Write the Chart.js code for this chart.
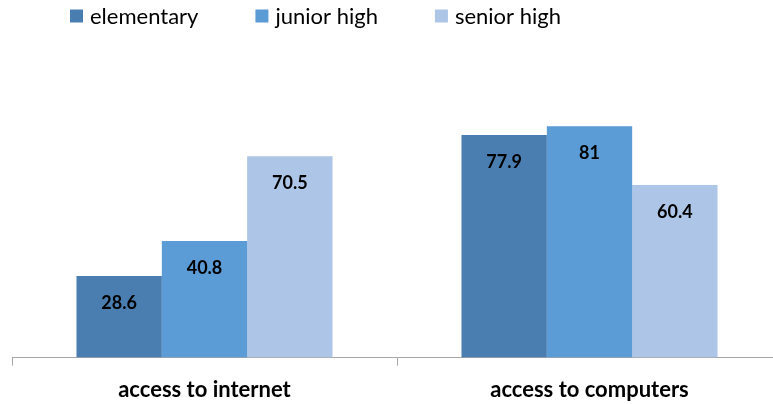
<!DOCTYPE html>
<html>
<head>
<meta charset="utf-8">
<script src="https://cdn.jsdelivr.net/npm/chart.js@4"></script>
<style>
  html, body { margin: 0; padding: 0; background: #fff; overflow: hidden; }
  #wrap { width: 790px; height: 404px; overflow: hidden; }
</style>
</head>
<body>
<div id="wrap"><canvas id="myChart" width="790" height="414"></canvas></div>
<script>
// Datos del gráfico
const categorias = ['access to internet', 'access to computers'];
const series = ['elementary', 'junior high', 'senior high'];
const elementary = [28.6, 77.9];
const juniorHigh = [40.8, 81];
const seniorHigh = [70.5, 60.4];
const colores = ['#4A7EB0', '#5B9BD6', '#ADC5E6'];

const fuente = 'Lato, "Open Sans", sans-serif';

// Etiquetas de valor dentro de cada barra, cerca del borde superior
const etiquetasValor = {
  id: 'etiquetasValor',
  afterDatasetsDraw(chart) {
    const ctx = chart.ctx;
    ctx.save();
    ctx.font = 'bold 18px ' + fuente;
    ctx.fillStyle = '#000';
    ctx.textAlign = 'center';
    ctx.textBaseline = 'middle';
    chart.data.datasets.forEach((ds, i) => {
      chart.getDatasetMeta(i).data.forEach((bar, j) => {
        ctx.fillText(String(ds.data[j]), bar.x, bar.y + 27);
      });
    });
    ctx.restore();
  }
};

// Leyenda dibujada a mano para controlar el espaciado
const leyenda = {
  id: 'leyenda',
  afterDraw(chart) {
    const ctx = chart.ctx;
    ctx.save();
    ctx.font = '22px ' + fuente;
    ctx.textBaseline = 'middle';
    let x = 70;
    const y = 16;
    chart.data.datasets.forEach(ds => {
      ctx.fillStyle = ds.backgroundColor;
      ctx.fillRect(x, y - 6.5, 13, 13);
      ctx.fillStyle = '#000';
      ctx.fillText(ds.label, x + 20, y + 1);
      x += 20 + ctx.measureText(ds.label).width + 57;
    });
    ctx.restore();
  }
};

const ctx = document.getElementById('myChart').getContext('2d');
new Chart(ctx, {
  type: 'bar',
  data: {
    labels: categorias,
    datasets: [
      { label: series[0], data: elementary, backgroundColor: colores[0] },
      { label: series[1], data: juniorHigh, backgroundColor: colores[1] },
      { label: series[2], data: seniorHigh, backgroundColor: colores[2] }
    ]
  },
  plugins: [etiquetasValor, leyenda],
  options: {
    responsive: false,
    animation: false,
    layout: { padding: { left: 12, right: 8, top: 72, bottom: 0 } },
    datasets: {
      bar: { categoryPercentage: 0.665, barPercentage: 1 }
    },
    plugins: {
      legend: { display: false },
      tooltip: { enabled: false }
    },
    scales: {
      x: {
        grid: {
          offset: true,
          drawOnChartArea: false,
          tickLength: 8,
          color: '#A6A6A6'
        },
        border: { color: '#A6A6A6', width: 1 },
        ticks: {
          color: '#000',
          padding: 11,
          font: { family: fuente, size: 22, weight: 'bold' }
        }
      },
      y: {
        display: false,
        min: 0,
        max: 100
      }
    }
  }
});
</script>
</body>
</html>
